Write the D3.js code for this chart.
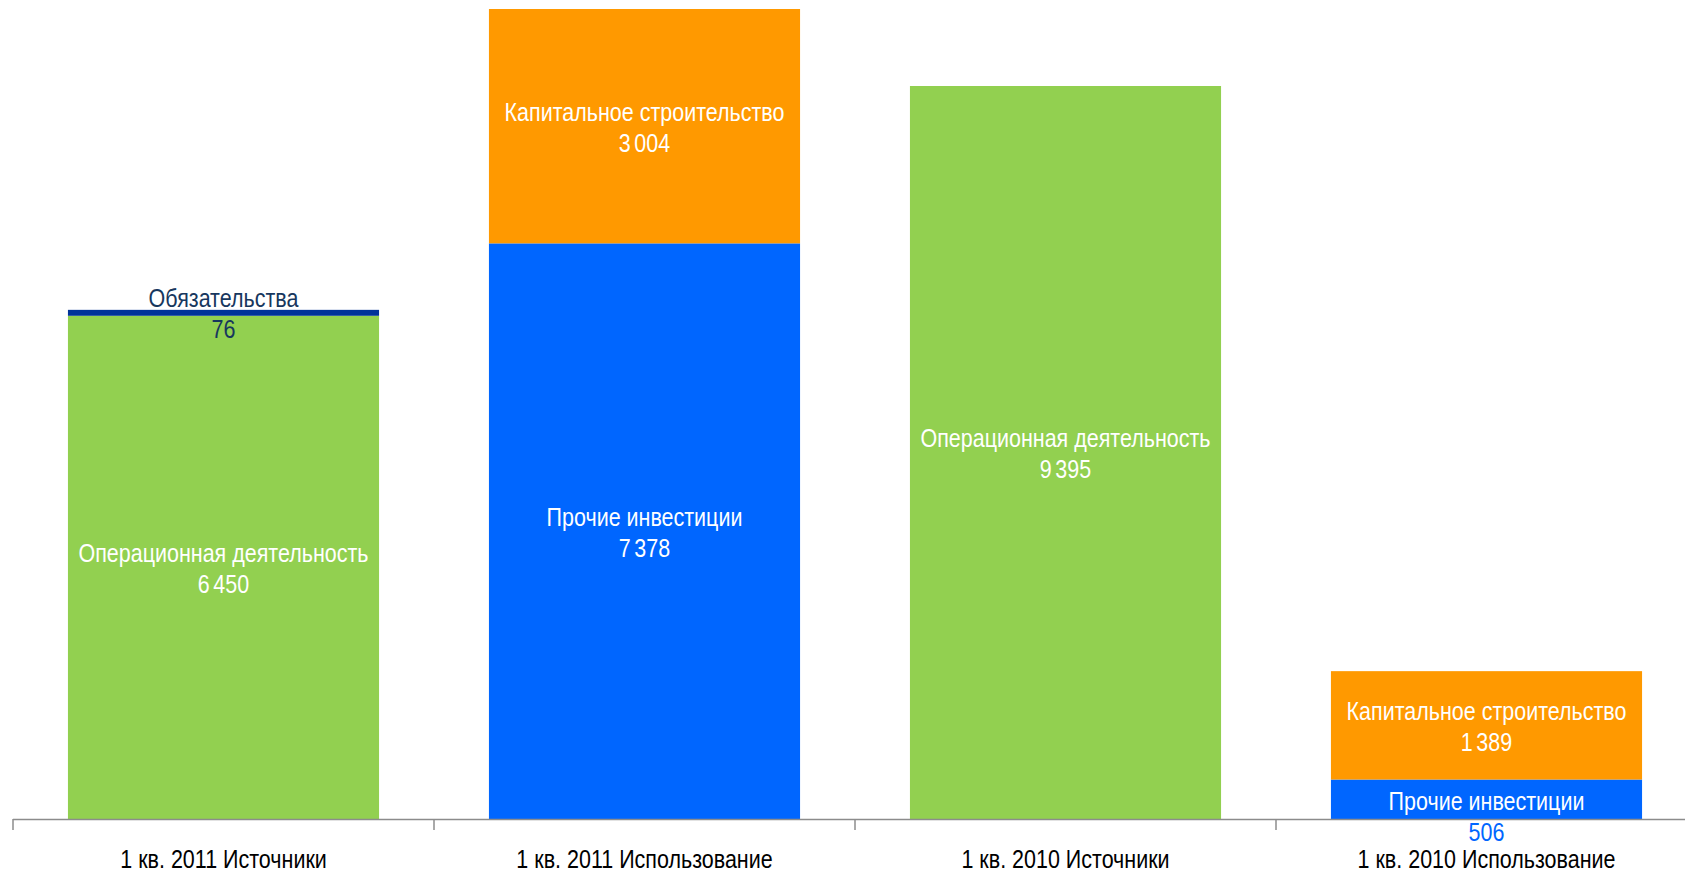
<!DOCTYPE html>
<html><head><meta charset="utf-8">
<script src="https://cdn.jsdelivr.net/npm/d3@7"></script>
<style>
html,body{margin:0;padding:0;background:#fff;overflow:hidden}
text{font-family:"Liberation Sans Narrow","Arial Narrow","Liberation Sans",sans-serif;}
</style></head>
<body>
<svg id="chart" width="1685" height="874"></svg>
<script>
const categories = ["1 кв. 2011 Источники", "1 кв. 2011 Использование", "1 кв. 2010 Источники", "1 кв. 2010 Использование"];
const seriesNames = ["Операционная деятельность", "Обязательства", "Прочие инвестиции", "Капитальное строительство"];
const operating  = [6450, 0, 9395, 0];
const liabilities = [76, 0, 0, 0];
const otherInv   = [0, 7378, 0, 506];
const capex      = [0, 3004, 0, 1389];
const seriesColors = ["#92D050", "#003399", "#0066FF", "#FF9900"];
const labelColors  = ["#ffffff", "#17375E", "#ffffff", "#ffffff"];

const seriesValues = [operating, liabilities, otherInv, capex];
const fmt = v => d3.format(",")(v).replace(/,/g, "\u2006");

const svg = d3.select("#chart");
const W = 1685;
const x0 = 13, step = 421;
const FS = 25, SX = 0.86;
const x = d3.scaleBand().domain(categories).range([x0, x0 + step * categories.length])
  .paddingInner(0.261).paddingOuter(0.1305);
const totals = categories.map((c, i) => d3.sum(seriesValues, s => s[i]));
const y = d3.scaleLinear().domain([0, d3.max(totals)]).range([819, 9]);

const table = categories.map((c, i) => {
  const o = {cat: c};
  seriesNames.forEach((n, j) => o[n] = seriesValues[j][i]);
  return o;
});
const stack = d3.stack().keys(seriesNames)(table);

const g = svg.append("g");
stack.forEach((layer, j) => {
  g.selectAll(null).data(layer.filter(d => d[1] > d[0])).enter().append("rect")
    .attr("x", d => x(d.data.cat))
    .attr("width", x.bandwidth())
    .attr("y", d => y(d[1]))
    .attr("height", d => y(d[0]) - y(d[1]))
    .attr("fill", seriesColors[j]);
});

function label(px, py, str, color) {
  svg.append("g").attr("transform", `translate(${px},${py}) scale(${SX},1)`)
    .append("text").attr("text-anchor", "middle").attr("dominant-baseline", "middle")
    .attr("font-size", FS).attr("fill", color).text(str);
}

// axis
const axisG = svg.append("g").attr("transform", "translate(0,819)");
axisG.append("line").attr("x1", x0).attr("x2", W).attr("y1", 0.5).attr("y2", 0.5)
  .attr("stroke", "#8c8c8c").attr("stroke-width", 1.5);
categories.forEach((c, i) => {
  const tx = x0 + step * i;
  axisG.append("line").attr("x1", tx).attr("x2", tx).attr("y1", 0).attr("y2", 11)
    .attr("stroke", "#8c8c8c").attr("stroke-width", 1.5);
  label(x(c) + x.bandwidth() / 2, 861, c, "#000");
});

// data labels
stack.forEach((layer, j) => {
  layer.filter(d => d[1] > d[0]).forEach(d => {
    const cx = x(d.data.cat) + x.bandwidth() / 2;
    const segH = y(d[0]) - y(d[1]);
    const mid = (y(d[0]) + y(d[1])) / 2;
    const small = segH < 50 && j === 2;
    const y1 = small ? mid + 4 : mid - 12;
    label(cx, y1, seriesNames[j], labelColors[j]);
    label(cx, y1 + 31, fmt(d.data[seriesNames[j]]), small ? seriesColors[j] : labelColors[j]);
  });
});
</script>
</body></html>
